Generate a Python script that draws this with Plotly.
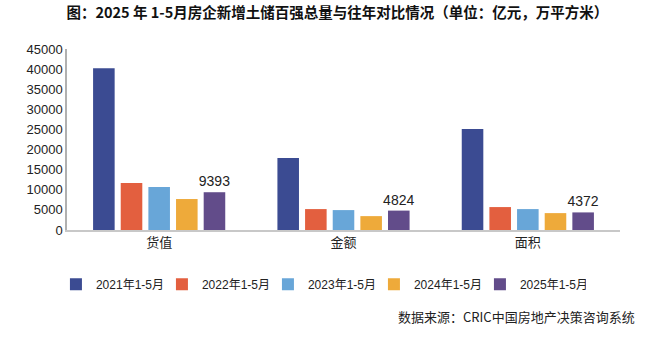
import plotly.graph_objects as go

categories = ["货值", "金额", "面积"]
series_names = ["2021年1-5月", "2022年1-5月", "2023年1-5月", "2024年1-5月", "2025年1-5月"]
values_2021 = [40200, 17900, 25100]
values_2022 = [11700, 5200, 5700]
values_2023 = [10700, 4950, 5200]
values_2024 = [7700, 3450, 4200]
values_2025 = [9393, 4824, 4372]
colors = ["#3B4B92", "#E35F3F", "#68A6D8", "#EEAA3A", "#624C8A"]
y_ticks = [0, 5000, 10000, 15000, 20000, 25000, 30000, 35000, 40000, 45000]

all_values = [values_2021, values_2022, values_2023, values_2024, values_2025]

fig = go.Figure()
for i, (name, vals, col) in enumerate(zip(series_names, all_values, colors)):
    show_text = (i == len(series_names) - 1)
    fig.add_trace(go.Bar(
        x=categories, y=vals, name=name,
        marker=dict(color=col, line=dict(width=0)),
        text=[str(v) for v in vals] if show_text else None,
        textposition="outside" if show_text else None,
        constraintext="none",
        textfont=dict(size=14, color="#222222", family="Liberation Sans, Arial"),
        cliponaxis=False,
    ))

# invisible spacer entry so the last legend label is not clipped
fig.add_trace(go.Scatter(
    x=[categories[0]], y=[0], name=" ", mode="markers",
    marker=dict(color="rgba(0,0,0,0)", size=1), hoverinfo="skip",
))

fig.update_layout(
    width=655, height=340,
    margin=dict(l=67, r=35, t=49, b=110),
    barmode="group",
    bargap=0.25,
    bargroupgap=0.22,
    plot_bgcolor="white",
    paper_bgcolor="white",
    font=dict(family="Liberation Sans, Arial, Noto Sans CJK SC", size=13, color="#222222"),
    title=dict(
        text="<b>图：2025 年 1-5月房企新增土储百强总量与往年对比情况（单位：亿元，万平方米）</b>",
        x=0.515, xanchor="center", y=0.962, yanchor="middle",
        font=dict(family="Noto Sans CJK SC", size=14.5, color="#111111"),
    ),
    showlegend=True,
    legend=dict(
        orientation="h", x=-0.02, xanchor="left", y=-0.22, yanchor="top",
        font=dict(family="Liberation Sans, Noto Sans CJK SC", size=12, color="#222222"),
        entrywidth=61, entrywidthmode="pixels", itemwidth=30,
        traceorder="normal",
    ),
    xaxis=dict(
        showline=True, linecolor="#C8C8C8", linewidth=1.5,
        ticks="", showgrid=False,
        tickfont=dict(family="Noto Sans CJK SC", size=13, color="#222222"),
    ),
    yaxis=dict(
        range=[0, 45000], tickvals=y_ticks,
        ticktext=[str(t) for t in y_ticks],
        showline=True, linecolor="#B0B0B0", linewidth=1.5,
        showgrid=False, zeroline=False, ticks="",
        tickfont=dict(family="Liberation Sans, Arial", size=13, color="#222222"),
    ),
    annotations=[dict(
        text="数据来源：CRIC中国房地产决策咨询系统",
        xref="paper", yref="paper", x=1.03, y=-0.48,
        xanchor="right", yanchor="middle", showarrow=False,
        font=dict(family="Noto Sans CJK SC", size=13, color="#222222"),
    )],
)

fig.write_html("out.html")
